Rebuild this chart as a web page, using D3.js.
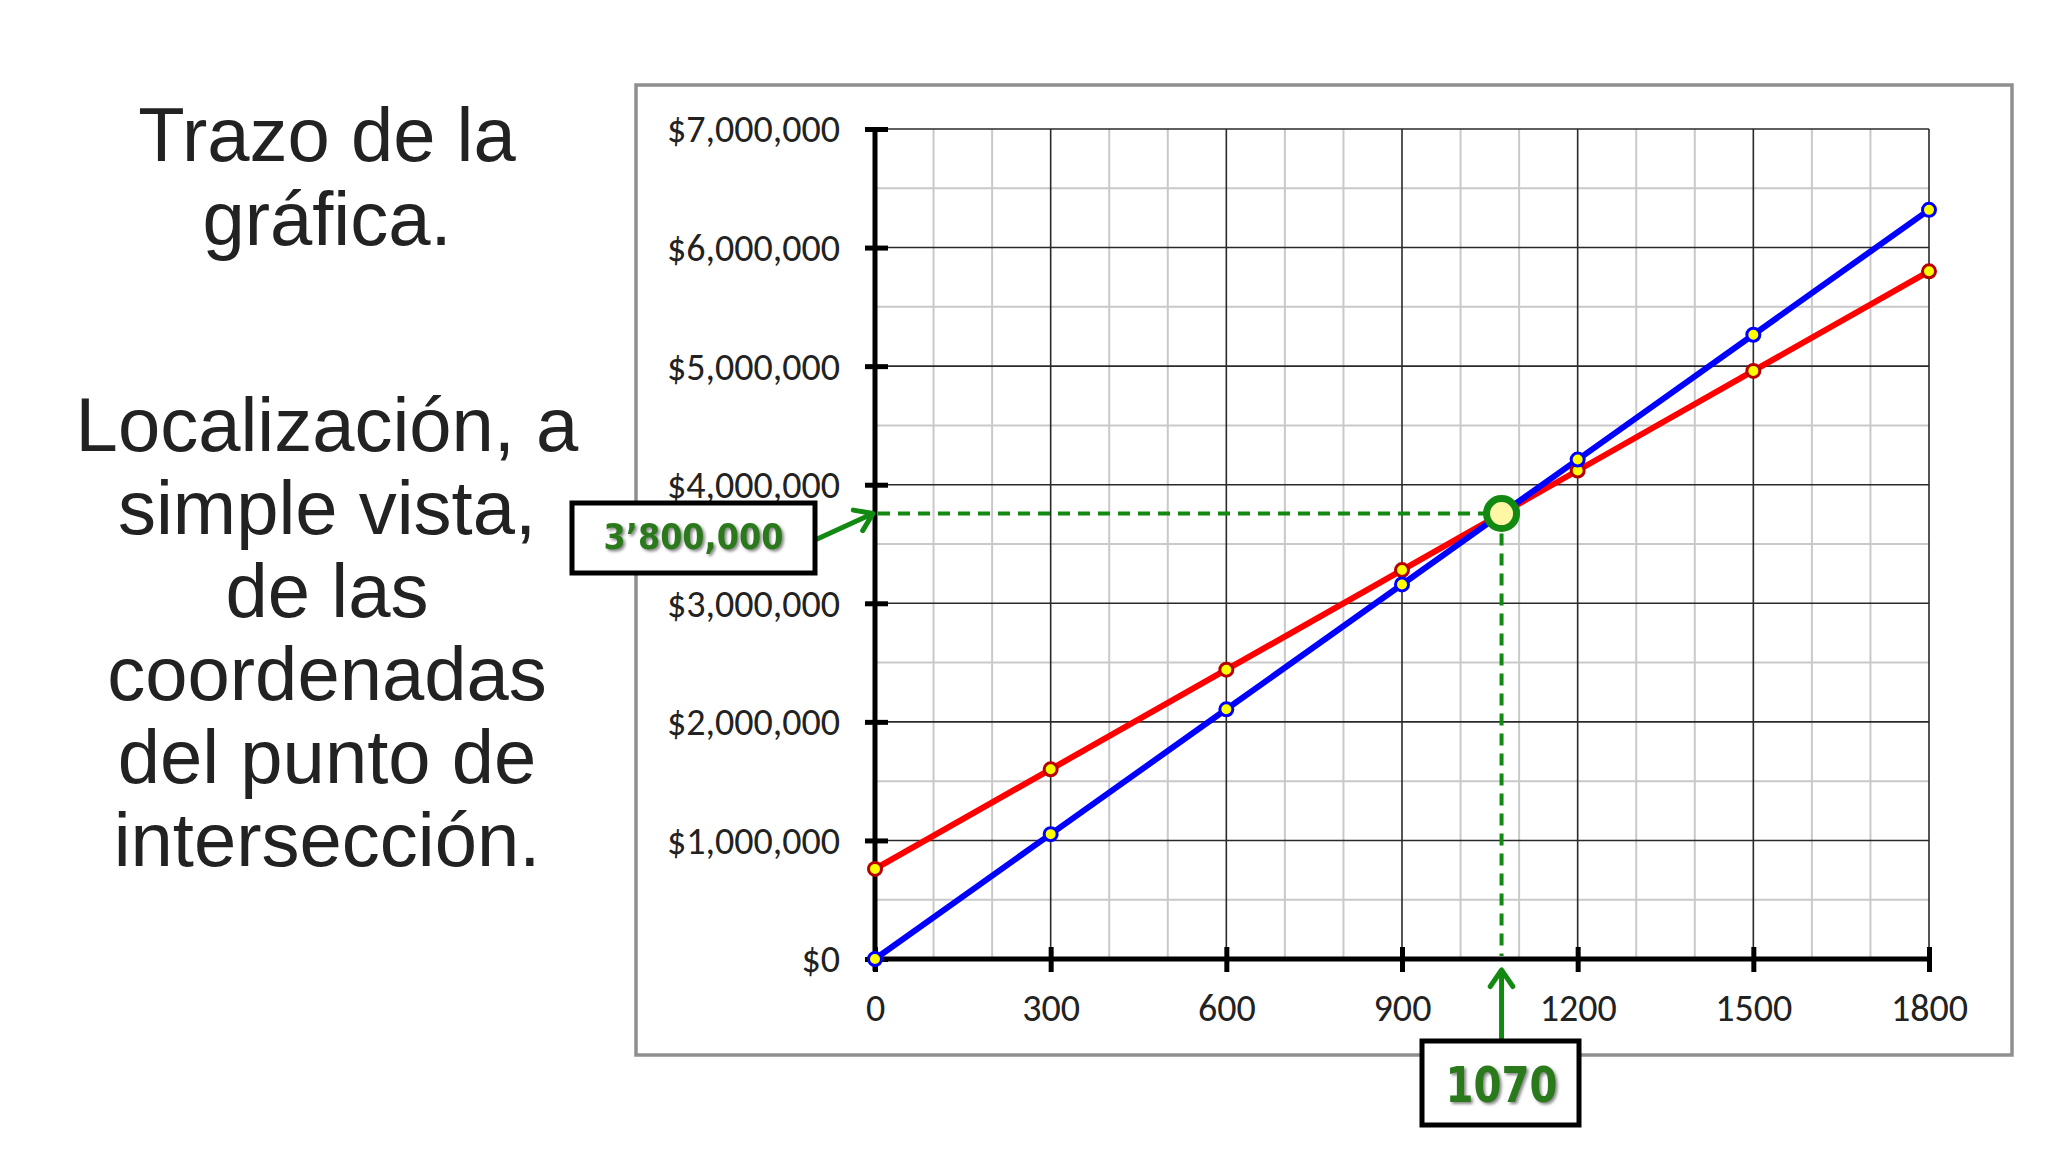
<!DOCTYPE html>
<html>
<head>
<meta charset="utf-8">
<script src="https://cdn.jsdelivr.net/npm/d3@7"></script>
<style>
  html, body { margin: 0; padding: 0; background: #fff; }
  svg { display: block; }
</style>
</head>
<body>
<div id="chart"></div>
<script>
// page size
var width = 2048,
    height = 1152;

// data
var units = [0, 300, 600, 900, 1200, 1500, 1800];
var ingresos = [0, 1053000, 2106000, 3159000, 4212000, 5265000, 6318000]; // blue
var costos = [760000, 1600000, 2440000, 3280000, 4120000, 4960000, 5800000]; // red
var yTicks = [0, 1000000, 2000000, 3000000, 4000000, 5000000, 6000000, 7000000];
var xTicks = [0, 300, 600, 900, 1200, 1500, 1800];
var crossX = 1070, crossY = 3757000;
var crossXLabel = "1070", crossYLabel = "3\u2019800,000";
var leftText1 = ["Trazo de la", "gráfica."];
var leftText2 = ["Localización, a", "simple vista,", "de las", "coordenadas", "del punto de", "intersección."];

// plot box
var plot = {left: 875, right: 1929, top: 129, bottom: 959};
var green = "#128a12";

var x = d3.scaleLinear().domain([0, 1800]).range([plot.left, plot.right]);
var y = d3.scaleLinear().domain([0, 7000000]).range([plot.bottom, plot.top]);

var svg = d3.select("#chart").append("svg")
    .attr("width", width).attr("height", height);

// drop shadow for the green labels
var defs = svg.append("defs");
defs.append("filter").attr("id", "shadow")
    .attr("x", "-10%").attr("y", "-20%").attr("width", "130%").attr("height", "150%")
    .append("feDropShadow")
    .attr("dx", 2).attr("dy", 2).attr("stdDeviation", 1.5)
    .attr("flood-color", "#555").attr("flood-opacity", 0.7);

// Left text blocks
var left = svg.append("g").attr("font-family", "Liberation Sans, Arial, sans-serif")
    .attr("font-size", 76).attr("fill", "#222").attr("text-anchor", "middle");
left.selectAll("text.t1").data(leftText1).enter().append("text")
    .attr("class", "t1")
    .attr("x", 327)
    .attr("y", function(d, i) { return 161 + i * 84; })
    .text(function(d) { return d; });
left.selectAll("text.t2").data(leftText2).enter().append("text")
    .attr("class", "t2")
    .attr("x", 327)
    .attr("y", function(d, i) { return 451 + i * 83; })
    .text(function(d) { return d; });

// Chart frame
svg.append("rect")
    .attr("x", 636).attr("y", 85).attr("width", 1376).attr("height", 970)
    .attr("fill", "#fff").attr("stroke", "#8f8f8f").attr("stroke-width", 3.5);

// Minor grid
var g = svg.append("g");
g.selectAll("line.vminor").data(d3.range(100, 1800, 100).filter(function(d) { return d % 300 != 0; }))
    .enter().append("line").attr("class", "vminor")
    .attr("x1", function(d) { return x(d); }).attr("x2", function(d) { return x(d); })
    .attr("y1", y(7000000)).attr("y2", y(0))
    .attr("stroke", "#c9c9c9").attr("stroke-width", 2);
g.selectAll("line.hminor").data(d3.range(500000, 7000000, 1000000))
    .enter().append("line").attr("class", "hminor")
    .attr("x1", x(0)).attr("x2", x(1800))
    .attr("y1", function(d) { return y(d); }).attr("y2", function(d) { return y(d); })
    .attr("stroke", "#c9c9c9").attr("stroke-width", 2);

// Major grid
g.selectAll("line.vmajor").data(xTicks.slice(1))
    .enter().append("line").attr("class", "vmajor")
    .attr("x1", function(d) { return x(d); }).attr("x2", function(d) { return x(d); })
    .attr("y1", y(7000000)).attr("y2", y(0))
    .attr("stroke", "#2a2a2a").attr("stroke-width", 1.6);
g.selectAll("line.hmajor").data(yTicks.slice(1))
    .enter().append("line").attr("class", "hmajor")
    .attr("x1", x(0)).attr("x2", x(1800))
    .attr("y1", function(d) { return y(d); }).attr("y2", function(d) { return y(d); })
    .attr("stroke", "#2a2a2a").attr("stroke-width", 1.6);

// Axes
var yAxis = svg.append("g").attr("transform", "translate(" + plot.left + ",0)")
    .call(d3.axisLeft(y).tickValues(yTicks).tickFormat(d3.format("$,")).tickSizeOuter(0).tickPadding(29));
var xAxis = svg.append("g").attr("transform", "translate(0," + plot.bottom + ")")
    .call(d3.axisBottom(x).tickValues(xTicks).tickFormat(d3.format("d")).tickSizeOuter(0).tickPadding(29));

yAxis.select(".domain").attr("stroke", "#000").attr("stroke-width", 5)
    .attr("d", "M0," + (plot.top - 2) + "V" + (plot.bottom + 12));
yAxis.selectAll(".tick line").attr("x1", -10).attr("x2", 13)
    .attr("stroke", "#000").attr("stroke-width", 5);
xAxis.select(".domain").attr("stroke", "#000").attr("stroke-width", 5)
    .attr("d", "M" + plot.left + ",0H" + (plot.right + 2));
xAxis.selectAll(".tick line").attr("y1", -12).attr("y2", 13)
    .attr("stroke", "#000").attr("stroke-width", 5);

[yAxis, xAxis].forEach(function(a) {
    a.selectAll(".tick text")
        .attr("font-family", "Carlito, Calibri, Lato, sans-serif")
        .attr("font-size", 38)
        .attr("fill", "#222");
});
yAxis.selectAll(".tick text").attr("dy", "0.34em");
xAxis.selectAll(".tick text").attr("dy", "0.71em");

// Lines and markers
var line = d3.line()
    .x(function(d) { return x(d[0]); })
    .y(function(d) { return y(d[1]); });

var series = [
    {name: "costos", values: d3.zip(units, costos), color: "#ff0000", edge: "#b80000"},
    {name: "ingresos", values: d3.zip(units, ingresos), color: "#0000ff", edge: "#0000ff"}
];

series.forEach(function(s) {
    svg.append("path")
        .datum(s.values)
        .attr("fill", "none")
        .attr("stroke", s.color)
        .attr("stroke-width", 6)
        .attr("d", line);
});
series.forEach(function(s) {
    svg.selectAll("circle." + s.name).data(s.values).enter().append("circle")
        .attr("class", s.name)
        .attr("cx", function(d) { return x(d[0]); })
        .attr("cy", function(d) { return y(d[1]); })
        .attr("r", 6.5)
        .attr("fill", "#ffff00")
        .attr("stroke", s.edge)
        .attr("stroke-width", 3);
});

// Dashed guide lines to the crossing point
var cx = x(crossX), cy = y(crossY);
svg.append("line")
    .attr("x1", x(0) + 3).attr("x2", cx).attr("y1", cy).attr("y2", cy)
    .attr("stroke", green).attr("stroke-width", 4).attr("stroke-dasharray", "12,8");
svg.append("line")
    .attr("x1", cx).attr("x2", cx).attr("y1", cy).attr("y2", y(0) - 3)
    .attr("stroke", green).attr("stroke-width", 4).attr("stroke-dasharray", "12,8");

// Crossing marker
svg.append("circle")
    .attr("cx", cx).attr("cy", cy).attr("r", 15)
    .attr("fill", "#fff7a6").attr("stroke", green).attr("stroke-width", 7);

// Arrow helper: shaft from (x0,y0) to tip (x1,y1) with open chevron head
function arrow(x0, y0, x1, y1) {
    var a = Math.atan2(y1 - y0, x1 - x0), len = 20, spread = 0.6;
    var p = d3.path();
    p.moveTo(x0, y0); p.lineTo(x1, y1);
    p.moveTo(x1 - len * Math.cos(a - spread), y1 - len * Math.sin(a - spread));
    p.lineTo(x1, y1);
    p.lineTo(x1 - len * Math.cos(a + spread), y1 - len * Math.sin(a + spread));
    svg.append("path").attr("d", p.toString())
        .attr("fill", "none").attr("stroke", green).attr("stroke-width", 5)
        .attr("stroke-linecap", "round").attr("stroke-linejoin", "round");
}

// Y value label
var yBox = {x: 572, y: 503, w: 243, h: 70};
arrow(yBox.x + yBox.w, 540, x(0) - 2, cy);
svg.append("rect")
    .attr("x", yBox.x).attr("y", yBox.y).attr("width", yBox.w).attr("height", yBox.h)
    .attr("fill", "#fff").attr("stroke", "#000").attr("stroke-width", 5);
svg.append("text")
    .attr("x", yBox.x + yBox.w / 2).attr("y", 549)
    .attr("text-anchor", "middle")
    .attr("font-family", "DejaVu Sans, sans-serif").attr("font-weight", "bold")
    .attr("font-size", 35)
    .attr("textLength", 180).attr("lengthAdjust", "spacingAndGlyphs")
    .attr("fill", "#2b7a1f").attr("filter", "url(#shadow)")
    .text(crossYLabel);

// X value label
var xBox = {x: 1422, y: 1041, w: 157, h: 84};
arrow(cx, xBox.y, cx, y(0) + 11);
svg.append("rect")
    .attr("x", xBox.x).attr("y", xBox.y).attr("width", xBox.w).attr("height", xBox.h)
    .attr("fill", "#fff").attr("stroke", "#000").attr("stroke-width", 5);
svg.append("text")
    .attr("x", cx).attr("y", 1102)
    .attr("text-anchor", "middle")
    .attr("font-family", "DejaVu Sans, sans-serif").attr("font-weight", "bold")
    .attr("font-size", 50)
    .attr("textLength", 112).attr("lengthAdjust", "spacingAndGlyphs")
    .attr("fill", "#2b7a1f").attr("filter", "url(#shadow)")
    .text(crossXLabel);
</script>
</body>
</html>
